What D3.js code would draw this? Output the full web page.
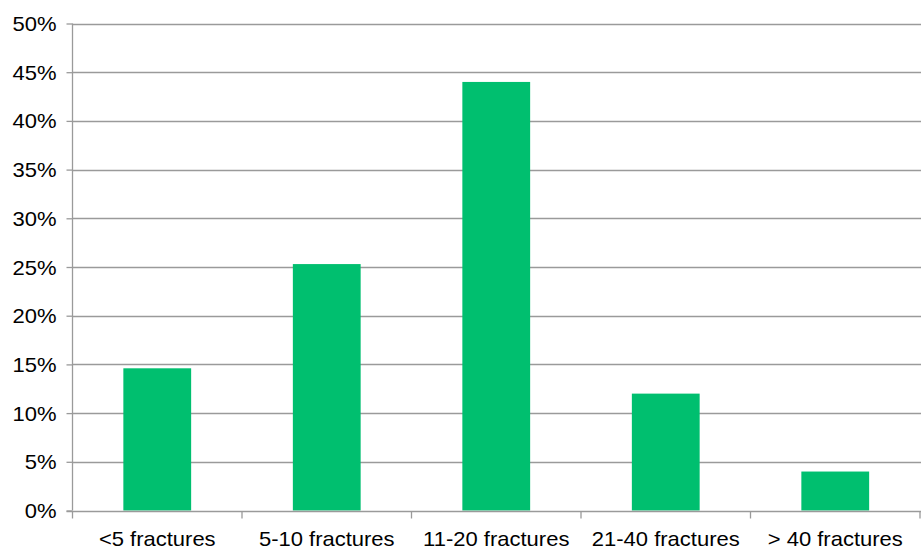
<!DOCTYPE html>
<html>
<head>
<meta charset="utf-8">
<script src="https://cdn.jsdelivr.net/npm/d3@7/dist/d3.min.js"></script>
<style>
  html, body { margin: 0; padding: 0; background: #fff; }
  svg { display: block; }
  text { font-family: "Liberation Sans", Arial, Helvetica, sans-serif; fill: #000; }
</style>
</head>
<body>
<svg id="chart" width="921" height="548"></svg>
<script>
// Share of cases by number of fractures
const categories = ["<5 fractures", "5-10 fractures", "11-20 fractures", "21-40 fractures", "> 40 fractures"];
const shares = [14.6, 25.3, 44.0, 12.0, 4.0];
const yTicks = [0, 5, 10, 15, 20, 25, 30, 35, 40, 45, 50];

const svg = d3.select("#chart");
const margin = { left: 72.5, right: 1, top: 23.5, bottom: 37.5 };
const width = 921, height = 548;
const fontSize = 20, stretch = 1.1;

const x = d3.scaleBand()
  .domain(categories)
  .range([margin.left, width - margin.right])
  .paddingInner(0.6)
  .paddingOuter(0.3);

const y = d3.scaleLinear()
  .domain([0, 50])
  .range([height - margin.bottom, margin.top]);

const gridColor = "#9a9a9a";

// horizontal gridlines
svg.append("g")
  .selectAll("line")
  .data(yTicks.filter(d => d > 0))
  .join("line")
  .attr("x1", margin.left)
  .attr("x2", width)
  .attr("y1", d => Math.round(y(d)) + 0.5)
  .attr("y2", d => Math.round(y(d)) + 0.5)
  .attr("stroke", gridColor)
  .attr("stroke-width", 1.3);

// bars
svg.append("g")
  .selectAll("rect")
  .data(categories.map((c, i) => ({ c, v: shares[i] })))
  .join("rect")
  .attr("x", d => x(d.c))
  .attr("width", x.bandwidth())
  .attr("y", d => y(d.v))
  .attr("height", d => y(0) - y(d.v))
  .attr("fill", "#00bf6f");

// y axis
const yAxis = svg.append("g")
  .attr("transform", `translate(${margin.left},0)`)
  .call(d3.axisLeft(y).tickValues(yTicks).tickFormat(d => d + "%").tickSize(6).tickPadding(10));
yAxis.selectAll("path, line").attr("stroke", gridColor).attr("stroke-width", 1.3);
yAxis.select(".domain").attr("d", `M0,${y(50)}V${y(0)}`);
yAxis.selectAll(".tick text")
  .attr("font-size", fontSize)
  .attr("font-family", "Liberation Sans, Arial, sans-serif")
  .attr("dy", "0.35em")
  .attr("transform", function () {
    const tx = +d3.select(this).attr("x");
    d3.select(this).attr("x", 0);
    return `translate(${tx},0) scale(${stretch},1)`;
  });

// x axis with ticks at category boundaries
const xAxisG = svg.append("g")
  .attr("transform", `translate(0,${Math.round(y(0)) + 0.5})`);
xAxisG.append("line")
  .attr("x1", margin.left - 6).attr("x2", width)
  .attr("stroke", gridColor).attr("stroke-width", 1.3);
const bounds = d3.range(categories.length + 1).map(i => margin.left + i * (width - margin.right - margin.left) / categories.length);
xAxisG.selectAll(".bound")
  .data(bounds)
  .join("line")
  .attr("class", "bound")
  .attr("x1", d => d).attr("x2", d => d)
  .attr("y1", 0).attr("y2", 7)
  .attr("stroke", gridColor).attr("stroke-width", 1.3);
xAxisG.selectAll("text")
  .data(categories)
  .join("text")
  .attr("transform", d => `translate(${x(d) + x.bandwidth() / 2},34) scale(${stretch},1)`)
  .attr("text-anchor", "middle")
  .attr("font-size", fontSize)
  .text(d => d);
</script>
</body>
</html>
